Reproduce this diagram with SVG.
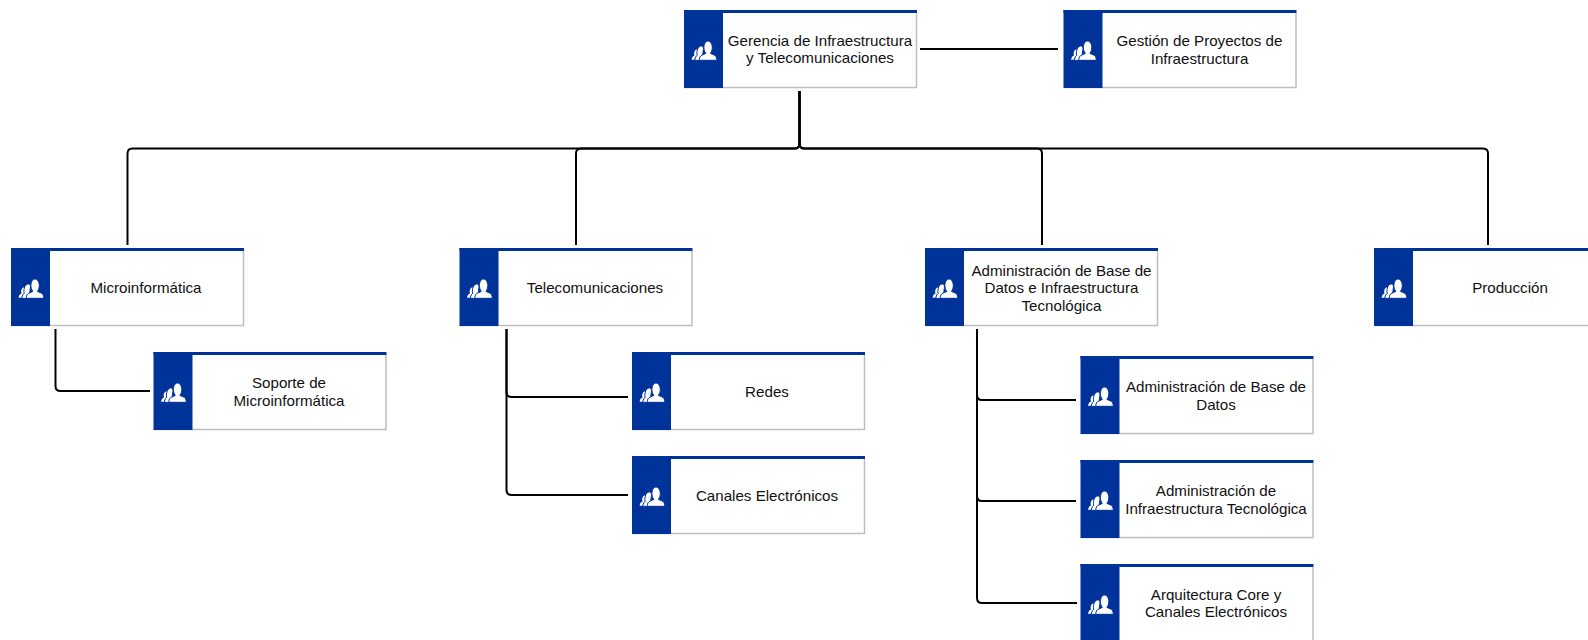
<svg xmlns="http://www.w3.org/2000/svg" width="1588" height="640" viewBox="0 0 1588 640">
<style>
.bg{fill:#fff}
.edge{fill:none;stroke:#bfbfbf;stroke-width:1.5}
.blue{fill:#003399}
.ic{fill:#fff}
.sep{fill:#fff;stroke:#003399;stroke-width:1}
.c{fill:none;stroke:#000;stroke-width:2}
text{font-family:"Liberation Sans",Arial,sans-serif;font-size:15.150px;fill:#111;text-anchor:middle}
</style>
<defs>
<g id="card">
<rect class="bg" x="0" y="0" width="233" height="78"/>
<path class="edge" d="M232.500 3V77.500H0"/>
<rect class="blue" x="0" y="0" width="39" height="78"/>
<rect class="blue" x="0" y="0" width="233" height="3"/>
<path class="ic" d="M7.500 49.800l1-3 2-1.300c-.6-1.500-.4-3.200.4-4.700.7-1.300 2.200-1.700 3-1l.5 4-2.300 3-1.200 3z"/>
<path class="sep" d="M10.500 50.300l1.300-3.500 1.300-1.300c-.4-2.500-.2-5 .8-7 .9-1.900 2.700-3 4-2.500 1.200.5 1.800 2 1.500 3.500l-1 8-1.500 3z"/>
<path class="sep" d="M15.300 50.300c0-3 .8-4.400 3.200-5.400l3.300-1.500c-1.300-1.700-1.900-3.800-1.900-6 0-3.500 1.700-6.400 4.100-6.400s4.300 2.900 4.300 6.400c0 2.200-.6 4.300-1.900 6l3.200 1.300c2.300 1 3.200 2.500 3.200 5.600z"/>
</g>
</defs>
<g id="connectors">
<path class="c" d="M920 49H1058"/>
<path class="c" d="M799.500 91V143.500q0 5-5 5H132.500q-5 0-5 5V245"/>
<path class="c" d="M799.500 91V143.500q0 5-5 5H581q-5 0-5 5V245"/>
<path class="c" d="M799.500 91V143.500q0 5 5 5H1037q5 0 5 5V245"/>
<path class="c" d="M799.500 91V143.500q0 5 5 5H1483q5 0 5 5V245"/>
<path class="c" d="M55.500 329V386q0 5 5 5H150"/>
<path class="c" d="M506.500 329V392q0 5 5 5H628"/>
<path class="c" d="M506.500 329V490q0 5 5 5H628"/>
<path class="c" d="M977 329V395q0 5 5 5H1076"/>
<path class="c" d="M977 329V496q0 5 5 5H1076"/>
<path class="c" d="M977 329V598q0 5 5 5H1077"/>
</g>
<g id="n-gerencia"><use href="#card" x="684" y="10"/><text x="820" y="46">Gerencia de Infraestructura</text><text x="820" y="63">y Telecomunicaciones</text></g>
<g id="n-gestion"><use href="#card" x="1063.500" y="10"/><text x="1199.500" y="46">Gestión de Proyectos de</text><text x="1199.500" y="64">Infraestructura</text></g>
<g id="n-micro"><use href="#card" x="11" y="248"/><text x="146" y="293">Microinformática</text></g>
<g id="n-tele"><use href="#card" x="459.500" y="248"/><text x="595" y="293">Telecomunicaciones</text></g>
<g id="n-adminbd"><use href="#card" x="925" y="248"/><text x="1061.500" y="276">Administración de Base de</text><text x="1061.500" y="293">Datos e Infraestructura</text><text x="1061.500" y="311">Tecnológica</text></g>
<g id="n-prod"><use href="#card" x="1374" y="248"/><text x="1510" y="293">Producción</text></g>
<g id="n-soporte"><use href="#card" x="153.500" y="352"/><text x="289" y="388">Soporte de</text><text x="289" y="406">Microinformática</text></g>
<g id="n-redes"><use href="#card" x="632" y="352"/><text x="767" y="397">Redes</text></g>
<g id="n-canales"><use href="#card" x="632" y="456"/><text x="767" y="501">Canales Electrónicos</text></g>
<g id="n-bd"><use href="#card" x="1080.500" y="356"/><text x="1216" y="392">Administración de Base de</text><text x="1216" y="410">Datos</text></g>
<g id="n-infra"><use href="#card" x="1080.500" y="460"/><text x="1216" y="496">Administración de</text><text x="1216" y="514">Infraestructura Tecnológica</text></g>
<g id="n-core"><use href="#card" x="1080.500" y="564"/><text x="1216" y="600">Arquitectura Core y</text><text x="1216" y="617">Canales Electrónicos</text></g>
</svg>
